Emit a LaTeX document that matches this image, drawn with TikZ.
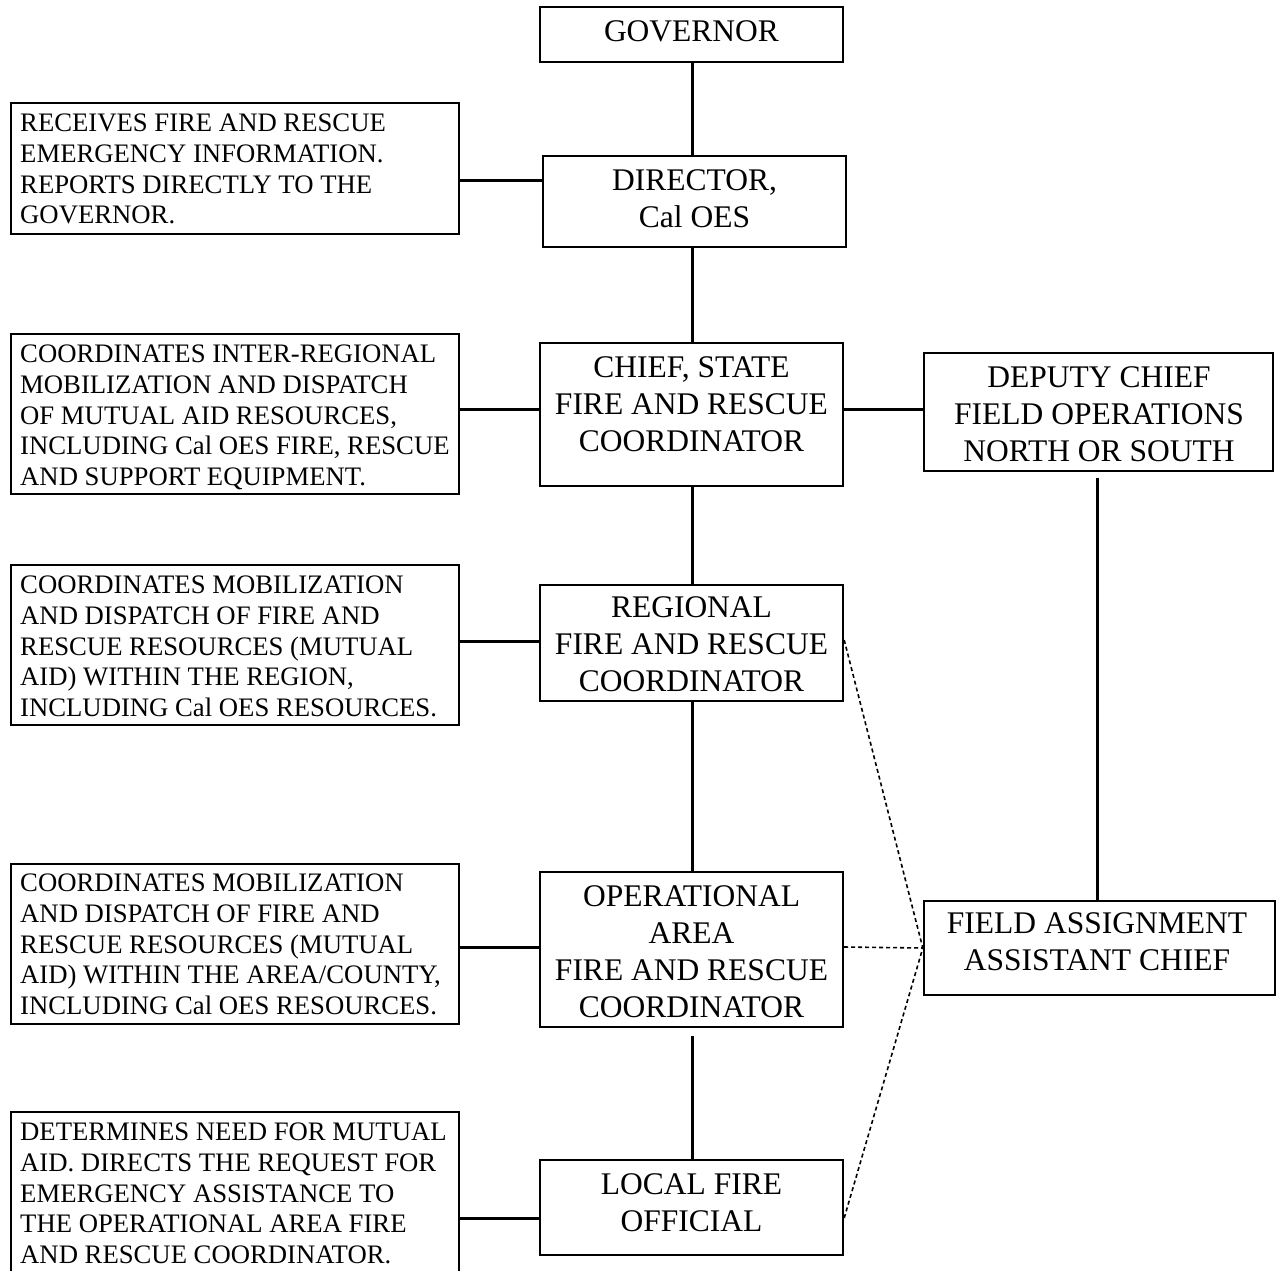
\documentclass[tikz,border=0pt]{standalone}
\usepackage{fontspec}
\setmainfont{Liberation Serif}
\begin{document}
\begin{tikzpicture}[x=1pt,y=-1pt,
  box/.style={draw, rectangle, line width=2.4pt, inner sep=0pt},
  ctext/.style={anchor=north, inner sep=0pt, align=center, font=\fontsize{31.5}{37}\selectfont},
  ltext/.style={anchor=north west, inner sep=0pt, align=left, font=\fontsize{26.7}{30.75}\selectfont},
  conn/.style={line width=3pt},
  dash line/.style={line width=1.6pt, dash pattern=on 4pt off 3pt}]
\clip (0,0) rectangle (1278,1270);
\fill[white] (0,0) rectangle (1278,1270);
% center column boxes
\node[box, minimum width=303pt, minimum height=55pt] (gov) at (691.5,34.5) {};
\node[box, minimum width=303pt, minimum height=91pt] (dir) at (694.5,201.5) {};
\node[box, minimum width=303pt, minimum height=143pt] (chief) at (691.5,414.5) {};
\node[box, minimum width=303pt, minimum height=116pt] (reg) at (691.5,643) {};
\node[box, minimum width=303pt, minimum height=155pt] (ops) at (691.5,949.5) {};
\node[box, minimum width=303pt, minimum height=95pt] (local) at (691.5,1207.5) {};
% right boxes
\node[box, minimum width=349pt, minimum height=118pt] (dep) at (1098.5,412) {};
\node[box, minimum width=351pt, minimum height=94pt] (field) at (1099.5,948) {};
% left boxes
\node[box, minimum width=448pt, minimum height=131pt] (l1) at (235,168.5) {};
\node[box, minimum width=448pt, minimum height=160pt] (l2) at (235,414) {};
\node[box, minimum width=448pt, minimum height=160pt] (l3) at (235,645) {};
\node[box, minimum width=448pt, minimum height=160pt] (l4) at (235,944) {};
\node[box, minimum width=448pt, minimum height=178pt] (l5) at (235,1201) {};
% center texts
\node[ctext] (govt) at (691.5,20.3) {GOVERNOR};
\node[ctext] (dirt) at (694.5,169.3) {DIRECTOR,\\Cal OES};
\node[ctext] (chieft) at (691.5,356.3) {CHIEF, STATE\\FIRE AND RESCUE\\COORDINATOR};
\node[ctext] (regt) at (691.5,596.3) {REGIONAL\\FIRE AND RESCUE\\COORDINATOR};
\node[ctext] (opst) at (691.5,885.3) {OPERATIONAL\\AREA\\FIRE AND RESCUE\\COORDINATOR};
\node[ctext] (localt) at (691.5,1173.3) {LOCAL FIRE\\OFFICIAL};
\node[ctext] (dept) at (1099,366.3) {DEPUTY CHIEF\\FIELD OPERATIONS\\NORTH OR SOUTH};
\node[ctext] (fieldt) at (1097,912) {FIELD ASSIGNMENT\\ASSISTANT CHIEF};
% left texts
\node[ltext] (l1t) at (20,113.8) {RECEIVES FIRE AND RESCUE\\EMERGENCY INFORMATION.\\REPORTS DIRECTLY TO THE\\GOVERNOR.};
\node[ltext] (l2t) at (20,344.8) {COORDINATES INTER-REGIONAL\\MOBILIZATION AND DISPATCH\\OF MUTUAL AID RESOURCES,\\INCLUDING Cal OES FIRE, RESCUE\\AND SUPPORT EQUIPMENT.};
\node[ltext] (l3t) at (20,575.8) {COORDINATES MOBILIZATION\\AND DISPATCH OF FIRE AND\\RESCUE RESOURCES (MUTUAL\\AID) WITHIN THE REGION,\\INCLUDING Cal OES RESOURCES.};
\node[ltext] (l4t) at (20,873.8) {COORDINATES MOBILIZATION\\AND DISPATCH OF FIRE AND\\RESCUE RESOURCES (MUTUAL\\AID) WITHIN THE AREA/COUNTY,\\INCLUDING Cal OES RESOURCES.};
\node[ltext] (l5t) at (20,1122.8) {DETERMINES NEED FOR MUTUAL\\AID. DIRECTS THE REQUEST FOR\\EMERGENCY ASSISTANCE TO\\THE OPERATIONAL AREA FIRE\\AND RESCUE COORDINATOR.};
% vertical connectors
\draw[conn] (gov.south -| 692,0) -- (dir.north -| 692,0);
\draw[conn] (dir.south -| 692,0) -- (chief.north -| 692,0);
\draw[conn] (chief.south -| 692,0) -- (reg.north -| 692,0);
\draw[conn] (reg.south -| 692,0) -- (ops.north -| 692,0);
\draw[conn, shorten <=8pt] (ops.south -| 692,0) -- (local.north -| 692,0);
\draw[conn, shorten <=6pt] (dep.south -| 1097,0) -- (field.north -| 1097,0);
% horizontal connectors
\draw[conn] (l1.east |- 0,180) -- (dir.west |- 0,180);
\draw[conn] (l2.east |- 0,409) -- (chief.west |- 0,409);
\draw[conn] (chief.east |- 0,409) -- (dep.west |- 0,409);
\draw[conn] (l3.east |- 0,641) -- (reg.west |- 0,641);
\draw[conn] (l4.east |- 0,947) -- (ops.west |- 0,947);
\draw[conn] (l5.east |- 0,1218) -- (local.west |- 0,1218);
% dashed links
\coordinate (fw) at (field.west);
\draw[dash line] (reg.east |- 0,640) -- (fw);
\draw[dash line] (ops.east |- 0,947) -- (fw);
\draw[dash line] (local.east |- 0,1218) -- (fw);
\end{tikzpicture}
\end{document}
